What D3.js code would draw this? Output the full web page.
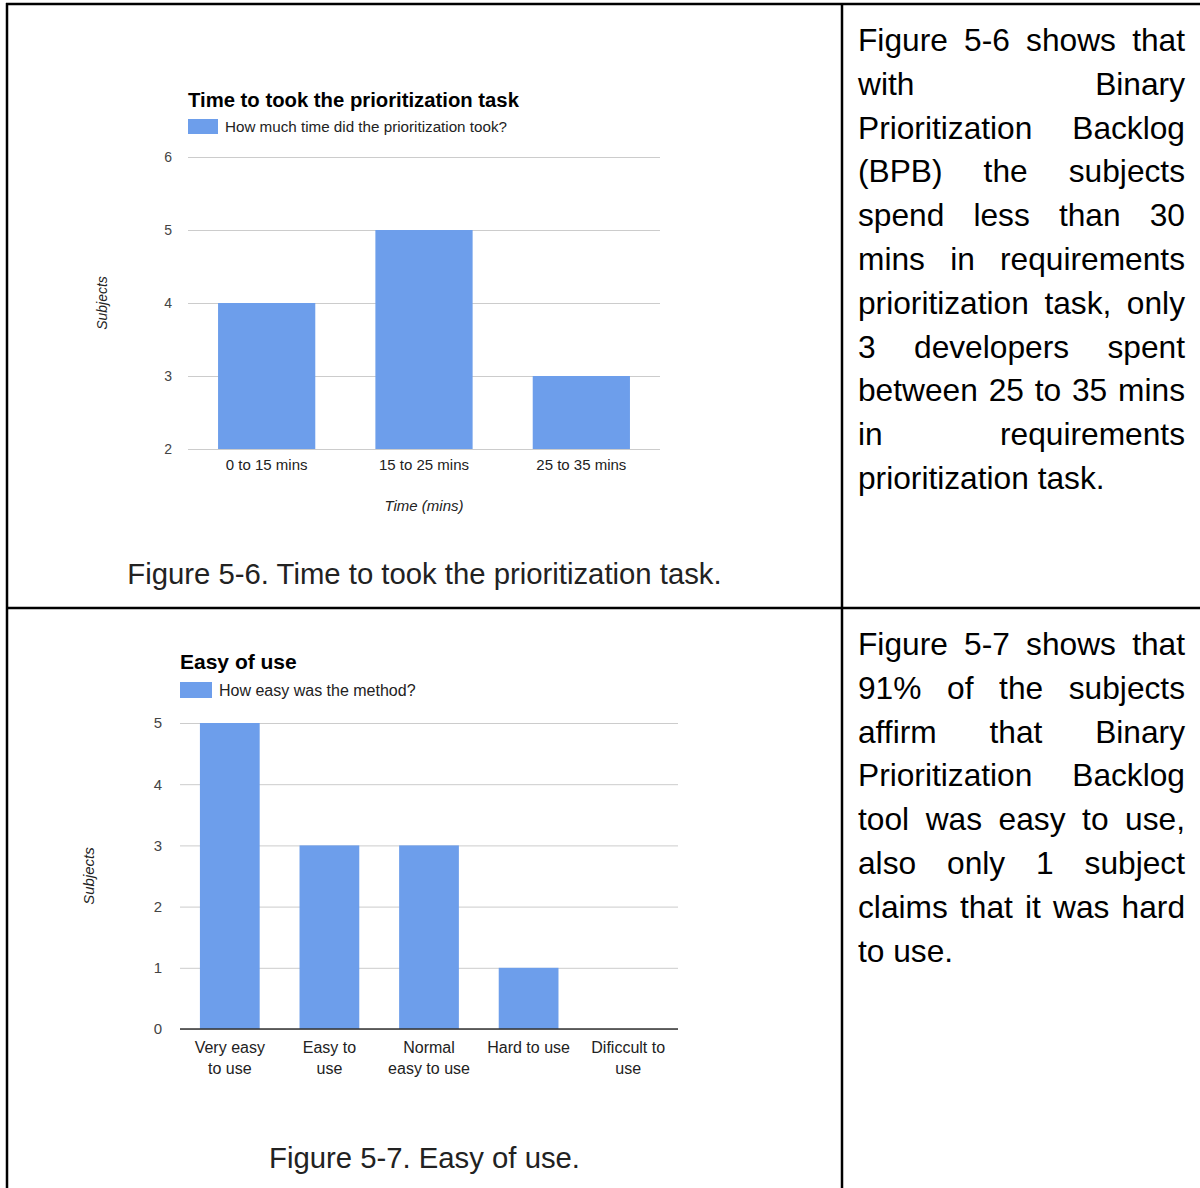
<!DOCTYPE html>
<html>
<head>
<meta charset="utf-8">
<script src="https://cdn.jsdelivr.net/npm/d3@7/dist/d3.min.js"></script>
<style>
  html, body { margin: 0; padding: 0; background: #fff; }
  svg { display: block; font-family: "Liberation Sans", Arial, sans-serif; }
</style>
</head>
<body>
<svg id="page" width="1200" height="1188"></svg>
<script>
// Figure 5-6: time spent on the prioritization task
const timeCategories = ["0 to 15 mins", "15 to 25 mins", "25 to 35 mins"];
const timeValues = [4, 5, 3];
const timeTicks = [2, 3, 4, 5, 6];

// Figure 5-7: ease of use
const easeCategories = ["Very easy to use", "Easy to use", "Normal easy to use", "Hard to use", "Dificcult to use"];
const easeLabelLines = [["Very easy", "to use"], ["Easy to", "use"], ["Normal", "easy to use"], ["Hard to use"], ["Dificcult to", "use"]];
const easeValues = [5, 3, 3, 1, 0];
const easeTicks = [0, 1, 2, 3, 4, 5];

// Commentary beside each figure, one entry per printed line
const text56 = [
  "Figure 5-6 shows that", "with Binary", "Prioritization Backlog", "(BPB) the subjects",
  "spend less than 30", "mins in requirements", "prioritization task, only",
  "3 developers spent", "between 25 to 35 mins", "in requirements", "prioritization task."
];
const text57 = [
  "Figure 5-7 shows that", "91% of the subjects", "affirm that Binary",
  "Prioritization Backlog", "tool was easy to use,", "also only 1 subject",
  "claims that it was hard", "to use."
];

const BAR = "#6d9eeb";
const svg = d3.select("#page");

// ---- table grid ----
const grid = svg.append("g").attr("stroke", "#000").attr("stroke-width", 2.5);
grid.append("line").attr("x1", 6).attr("x2", 1200).attr("y1", 4).attr("y2", 4);
grid.append("line").attr("x1", 6).attr("x2", 1200).attr("y1", 608).attr("y2", 608);
grid.append("line").attr("x1", 7).attr("x2", 7).attr("y1", 3).attr("y2", 1188);
grid.append("line").attr("x1", 842).attr("x2", 842).attr("y1", 3).attr("y2", 1188);

// ---- generic column chart ----
function columnChart(cfg) {
  const g = svg.append("g");
  const x = d3.scaleBand().domain(cfg.categories).range([cfg.left, cfg.right])
    .paddingInner(cfg.pad).paddingOuter(cfg.pad / 2);
  const y = d3.scaleLinear().domain(cfg.domain).range([cfg.bottom, cfg.top]);

  // title + legend
  g.append("text").attr("x", cfg.left).attr("y", cfg.titleY)
    .attr("font-size", cfg.titleSize).attr("font-weight", "bold").attr("fill", "#000")
    .text(cfg.title);
  g.append("rect").attr("x", cfg.left).attr("y", cfg.legendY)
    .attr("width", cfg.legendW).attr("height", cfg.legendH).attr("fill", BAR);
  g.append("text").attr("x", cfg.left + cfg.legendW + 7).attr("y", cfg.legendY + cfg.legendH - 2)
    .attr("font-size", cfg.legendSize).attr("fill", "#222").text(cfg.legend);

  // gridlines and value ticks
  const yAxis = g.append("g").attr("transform", `translate(${cfg.left},0)`)
    .call(d3.axisLeft(y).tickValues(cfg.ticks).tickSize(-(cfg.right - cfg.left))
      .tickPadding(cfg.tickPad).tickFormat(d3.format("d")));
  yAxis.select(".domain").remove();
  yAxis.selectAll(".tick line").attr("stroke", "#cccccc").attr("stroke-width", 1);
  yAxis.selectAll(".tick text").attr("fill", "#444").attr("font-size", cfg.tickSize)
    .attr("font-family", "Liberation Sans, Arial, sans-serif");

  // bars
  g.selectAll("rect.bar").data(cfg.values).join("rect").attr("class", "bar")
    .attr("x", (d, i) => x(cfg.categories[i]))
    .attr("width", x.bandwidth())
    .attr("y", d => y(d))
    .attr("height", d => y(cfg.domain[0]) - y(d))
    .attr("fill", BAR);

  // zero baseline
  if (cfg.darkBase) {
    g.append("line").attr("x1", cfg.left).attr("x2", cfg.right)
      .attr("y1", y(cfg.domain[0])).attr("y2", y(cfg.domain[0]))
      .attr("stroke", "#333").attr("stroke-width", 1.6);
  }

  // category labels
  const xAxis = g.append("g").attr("transform", `translate(0,${cfg.bottom})`)
    .call(d3.axisBottom(x).tickSize(0).tickFormat(""));
  xAxis.select(".domain").remove();
  xAxis.selectAll(".tick").each(function (d, i) {
    const t = d3.select(this).append("text").attr("fill", "#222")
      .attr("font-size", cfg.fontSize).attr("text-anchor", "middle")
      .attr("font-family", "Liberation Sans, Arial, sans-serif");
    cfg.labelLines[i].forEach((line, k) => {
      t.append("tspan").attr("x", 0).attr("y", cfg.labelDy + k * cfg.labelLH).text(line);
    });
  });

  // axis titles
  g.append("text").attr("transform", `translate(${cfg.yTitleX},${(cfg.top + cfg.bottom) / 2}) rotate(-90)`)
    .attr("text-anchor", "middle").attr("font-size", cfg.fontSize - 1).attr("font-style", "italic")
    .attr("fill", "#222").attr("dy", "0.35em").text("Subjects");
  if (cfg.xTitle) {
    g.append("text").attr("x", (cfg.left + cfg.right) / 2).attr("y", cfg.xTitleY)
      .attr("text-anchor", "middle").attr("font-size", cfg.fontSize).attr("font-style", "italic")
      .attr("fill", "#222").text(cfg.xTitle);
  }
}

columnChart({
  categories: timeCategories, values: timeValues, ticks: timeTicks,
  labelLines: timeCategories.map(c => [c]),
  domain: [2, 6], left: 188, right: 660, top: 157, bottom: 449, pad: 0.382,
  title: "Time to took the prioritization task", titleY: 107, titleSize: 20.3,
  legend: "How much time did the prioritization took?", legendY: 119, legendW: 30, legendH: 15,
  legendSize: 15.2, fontSize: 15, tickSize: 14, tickPad: 16, labelDy: 21, labelLH: 21,
  yTitleX: 102, xTitle: "Time (mins)", xTitleY: 511, darkBase: false
});

columnChart({
  categories: easeCategories, values: easeValues, ticks: easeTicks,
  labelLines: easeLabelLines,
  domain: [0, 5], left: 180, right: 678, top: 723, bottom: 1029, pad: 0.4,
  title: "Easy of use", titleY: 669, titleSize: 21,
  legend: "How easy was the method?", legendY: 682, legendW: 32, legendH: 16,
  legendSize: 16, fontSize: 16, tickSize: 15, tickPad: 18, labelDy: 24, labelLH: 21,
  yTitleX: 89, xTitle: null, darkBase: true
});

// ---- captions ----
const cellMid = (7 + 842) / 2;
svg.append("text").attr("x", cellMid).attr("y", 584).attr("text-anchor", "middle")
  .attr("font-size", 29.3).attr("fill", "#222").text("Figure 5-6. Time to took the prioritization task.");
svg.append("text").attr("x", cellMid).attr("y", 1168).attr("text-anchor", "middle")
  .attr("font-size", 29.3).attr("fill", "#222").text("Figure 5-7. Easy of use.");

// ---- justified commentary ----
function justified(lines, x0, x1, y0, lh, size) {
  const g = svg.append("g").attr("font-size", size).attr("fill", "#000");
  lines.forEach((line, li) => {
    const y = y0 + li * lh;
    const words = line.split(" ");
    const nodes = words.map(w => g.append("text").attr("y", y).text(w));
    const widths = nodes.map(n => n.node().getComputedTextLength());
    const last = li === lines.length - 1;
    const space = size * 0.278;
    const gap = (last || words.length < 2)
      ? space
      : (x1 - x0 - d3.sum(widths)) / (words.length - 1);
    let cx = x0;
    nodes.forEach((n, i) => { n.attr("x", cx); cx += widths[i] + gap; });
  });
}
justified(text56, 858, 1185, 51, 43.8, 31.7);
justified(text57, 858, 1185, 655, 43.8, 31.7);
</script>
</body>
</html>
